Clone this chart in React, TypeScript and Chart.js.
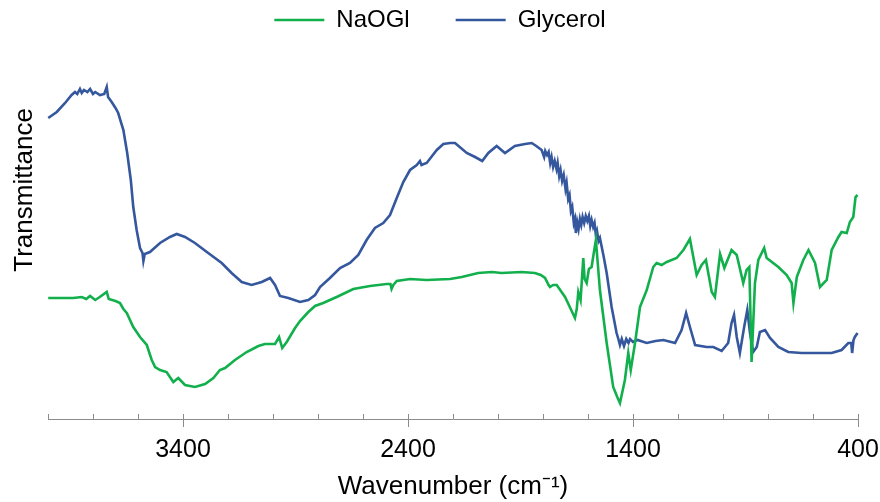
import React, { useEffect, useRef } from 'react';
import { Chart, registerables } from 'chart.js';

Chart.register(...registerables);

// ---- data (wavenumber in cm-1, transmittance in arbitrary units) ----
const seriesNames = ['NaOGl', 'Glycerol'];

const naoglWn = [
  3999, 3950, 3888, 3850, 3830, 3813, 3790, 3770, 3739, 3730, 3700, 3680, 3665, 3650, 3621, 3591,
  3561, 3539, 3524, 3502, 3473, 3443, 3421, 3391, 3347, 3302, 3265, 3236, 3213, 3169, 3117, 3065,
  3036, 2991, 2973, 2959, 2939, 2902, 2880, 2843, 2813, 2777, 2717, 2643, 2569, 2495, 2478, 2473,
  2465, 2450, 2391, 2317, 2213, 2161, 2088, 2028, 1984, 1895, 1836, 1810, 1791, 1775, 1769, 1755,
  1739, 1702, 1658, 1650, 1643, 1633, 1621, 1615, 1606, 1596, 1584, 1575, 1565, 1547, 1517, 1488,
  1470, 1458, 1436, 1421, 1410, 1391, 1369, 1339, 1310, 1295, 1273, 1250, 1206, 1176, 1147, 1117,
  1095, 1076, 1050, 1036, 1013, 994, 962, 939, 910, 895, 883, 873, 858, 843, 817, 806,
  754, 717, 695, 687, 672, 643, 620, 591, 569, 539, 517, 487, 473, 450, 436, 421,
  411, 402,
];
const naoglT = [
  121, 121, 121, 122, 120, 123, 119, 122, 127, 120, 118, 116, 110, 106, 92, 82,
  74, 59, 52, 49, 47, 37, 41, 34, 32, 35, 41, 49, 51, 59, 67, 73,
  75, 75, 82, 71, 77, 91, 98, 107, 113, 116, 122, 130, 133, 135, 135, 130,
  134, 138, 140, 139, 140, 142, 146, 147, 146, 147, 146, 144, 141, 134, 132, 134,
  134, 122, 101, 110, 127, 119, 161, 140, 136, 150, 152, 165, 179, 129, 76, 32,
  22, 16, 39, 66, 49, 76, 112, 129, 152, 156, 154, 157, 161, 169, 180, 144,
  154, 159, 127, 122, 165, 151, 169, 164, 136, 149, 152, 57, 136, 159, 171, 161,
  152, 144, 136, 116, 142, 159, 169, 156, 132, 139, 169, 182, 187, 186, 197, 202,
  222, 224,
];

const glycWn = [
  3999, 3961, 3924, 3895, 3880, 3870, 3858, 3850, 3840, 3825, 3813, 3800, 3790, 3769, 3750, 3739,
  3733, 3717, 3700, 3688, 3665, 3648, 3632, 3621, 3606, 3591, 3580, 3576, 3570, 3547, 3502, 3458,
  3428, 3391, 3347, 3288, 3228, 3184, 3139, 3095, 3050, 3013, 2991, 2969, 2932, 2880, 2843, 2813,
  2791, 2747, 2702, 2658, 2621, 2584, 2547, 2510, 2480, 2450, 2421, 2391, 2361, 2347, 2340, 2330,
  2317, 2272, 2243, 2213, 2191, 2139, 2102, 2070, 2043, 2006, 1969, 1925, 1880, 1850, 1830, 1806,
  1795, 1790, 1782, 1775, 1768, 1762, 1755, 1748, 1740, 1735, 1728, 1722, 1715, 1708, 1700, 1695,
  1688, 1682, 1676, 1670, 1663, 1658, 1654, 1648, 1642, 1636, 1630, 1624, 1617, 1610, 1603, 1596,
  1590, 1584, 1577, 1571, 1565, 1560, 1553, 1547, 1530, 1517, 1495, 1473, 1465, 1458, 1450, 1440,
  1430, 1420, 1413, 1400, 1380, 1339, 1300, 1265, 1213, 1184, 1164, 1147, 1124, 1073, 1043, 1006,
  977, 962, 951, 939, 925, 906, 892, 880, 866, 850, 836, 813, 791, 754, 710, 651,
  591, 517, 473, 443, 430, 426, 420, 414, 402,
];
const glycT = [
  301, 307, 316, 324, 327, 325, 330, 326, 329, 327, 330, 325, 327, 324, 325, 332,
  322, 317, 311, 306, 289, 266, 239, 212, 189, 171, 166, 158, 165, 167, 176, 182,
  185, 182, 176, 166, 156, 146, 137, 134, 137, 141, 134, 123, 121, 117, 119, 124,
  132, 141, 151, 156, 164, 179, 191, 196, 204, 221, 237, 249, 254, 258, 254, 255,
  256, 269, 275, 276, 276, 266, 262, 258, 266, 273, 266, 273, 275, 276, 273, 269,
  262, 268, 264, 267, 256, 262, 252, 258, 250, 256, 243, 249, 238, 244, 230, 236,
  220, 224, 208, 212, 196, 200, 186, 197, 190, 200, 194, 202, 196, 203, 198, 203,
  193, 199, 192, 196, 184, 188, 178, 181, 162, 146, 112, 86, 80, 74, 80, 73,
  80, 76, 80, 77, 79, 76, 78, 79, 76, 89, 106, 92, 74, 72, 72, 68,
  76, 96, 104, 82, 66, 92, 109, 86, 67, 72, 87, 89, 81, 72, 67, 66,
  66, 66, 69, 76, 76, 66, 79, 82, 86,
];

const tickValues = [4000, 3800, 3600, 3400, 3200, 3000, 2800, 2600, 2400, 2200, 2000, 1800, 1600, 1400, 1200, 1000, 800, 600, 400];
const labeledTicks = [3400, 2400, 1400, 400];

const xTitle = 'Wavenumber (cm\u207B\u00B9)';
const yTitle = 'Transmittance';

const GREEN = '#12b04c';
const BLUE = '#34579d';
const AXIS = '#8c8c8c';
const FONT = "'Liberation Sans', Arial, Helvetica, sans-serif";

const legendSpacer = {
  id: 'legendSpacer',
  beforeLayout(chart: any) {
    const lg = chart.legend;
    if (lg && !lg.__patched) {
      const orig = lg.fit.bind(lg);
      lg.fit = function () {
        orig();
        this.height = 146;
      };
      lg.__patched = true;
    }
  },
};

const axisTicks = {
  id: 'axisTicks',
  afterDraw(chart: any) {
    const s = chart.scales.x;
    const y0 = chart.chartArea.bottom;
    const ctx = chart.ctx;
    ctx.save();
    ctx.strokeStyle = AXIS;
    ctx.lineWidth = 1;
    tickValues.forEach((v) => {
      const x = Math.round(s.getPixelForValue(v)) + 0.5;
      const major = labeledTicks.includes(v);
      ctx.beginPath();
      ctx.moveTo(x, y0 - 5);
      ctx.lineTo(x, y0 + (major ? 8 : 0));
      ctx.stroke();
    });
    ctx.restore();
  },
};

export default function App() {
  const ref = useRef<HTMLCanvasElement>(null);
  useEffect(() => {
    if (!ref.current) return;
    Chart.defaults.font.family = FONT;
    Chart.defaults.color = '#000';
    const chart = new Chart(ref.current, {
      type: 'line',
      data: {
        datasets: [
          {
            label: seriesNames[0],
            data: naoglWn.map((x, i) => ({ x, y: naoglT[i] })),
            borderColor: GREEN,
            backgroundColor: GREEN,
            borderWidth: 2.6,
            pointRadius: 0,
            tension: 0,
            clip: false as any,
          },
          {
            label: seriesNames[1],
            data: glycWn.map((x, i) => ({ x, y: glycT[i] })),
            borderColor: BLUE,
            backgroundColor: BLUE,
            borderWidth: 2.6,
            pointRadius: 0,
            tension: 0,
            clip: false as any,
          },
        ],
      },
      options: {
        animation: false,
        responsive: false,
        layout: { padding: { top: -38, left: 0, right: 0, bottom: 0 } },
        plugins: {
          tooltip: { enabled: false },
          legend: {
            display: true,
            position: 'top',
            fullSize: true,
            align: 'center',
            labels: {
              usePointStyle: true,
              pointStyle: 'line',
              pointStyleWidth: 50,
              padding: 46,
              font: { size: 24, family: FONT },
              color: '#000',
            },
          },
        },
        scales: {
          x: {
            type: 'linear',
            reverse: true,
            min: 400,
            max: 4000,
            afterBuildTicks: (s: any) => {
              s.ticks = tickValues.map((v) => ({ value: v }));
            },
            afterFit: (s: any) => {
              s.height = 83;
              s.paddingLeft = 0;
              s.paddingRight = 22;
            },
            grid: { display: false, drawTicks: false },
            border: { display: true, color: AXIS, width: 1 },
            ticks: {
              autoSkip: false,
              maxRotation: 0,
              padding: 16,
              font: { size: 25, family: FONT },
              color: '#000',
              callback: (v: any) => (labeledTicks.includes(Number(v)) ? String(v) : ''),
            },
            title: {
              display: true,
              text: xTitle,
              font: { size: 26, family: FONT },
              color: '#000',
              padding: { top: 0, bottom: 0 },
            },
          },
          y: {
            type: 'linear',
            min: 0,
            max: 311,
            afterFit: (s: any) => {
              s.width = 48;
            },
            grid: { display: false, drawTicks: false },
            border: { display: false },
            ticks: { display: false },
            title: {
              display: true,
              text: yTitle,
              align: 'end',
              font: { size: 26, family: FONT },
              color: '#000',
              padding: { top: 9, bottom: 0 },
            },
          },
        },
      },
      plugins: [legendSpacer, axisTicks],
    });
    return () => chart.destroy();
  }, []);

  return (
    <div style={{ position: 'fixed', left: 0, top: 0, width: 880, height: 502, background: '#fff' }}>
      <canvas ref={ref} width={880} height={502} />
    </div>
  );
}
